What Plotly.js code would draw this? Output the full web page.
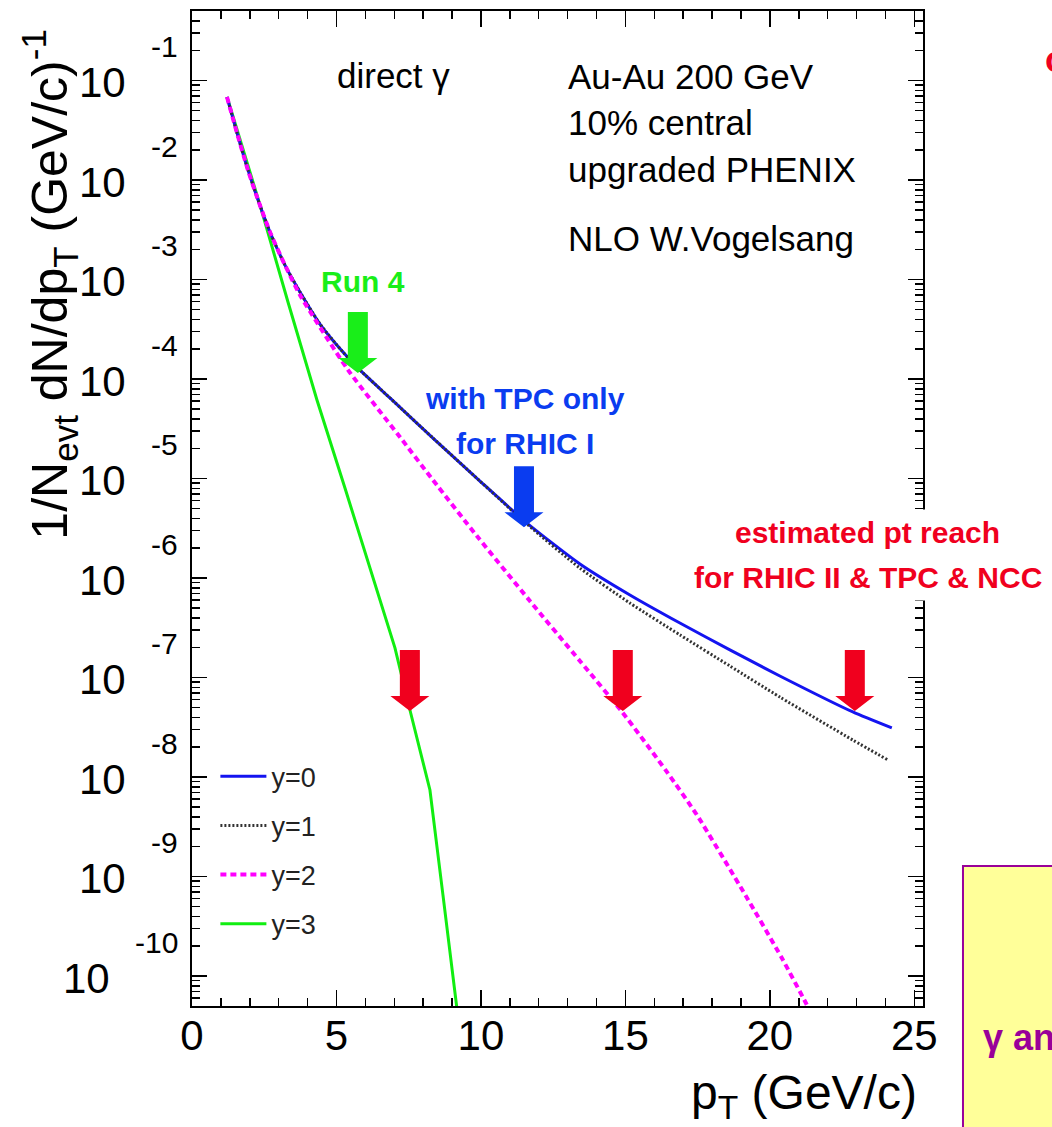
<!DOCTYPE html>
<html><head><meta charset="utf-8">
<script src="https://cdn.plot.ly/plotly-3.0.1.min.js"></script>
<style>html,body{margin:0;padding:0;background:#fff;}#chart{width:1052px;height:1127px;}</style>
</head><body><div id="chart"></div>
<script>
// ---- data ----
const pt_y0  = [1.211, 1.557, 1.938, 2.249, 2.699, 3.218, 3.737, 4.429, 5.225, 5.744, 6.851, 8.339, 9.965, 11.592, 13.426, 15.156, 16.886, 18.616, 20.346, 22.872, 24.221];
const val_y0 = [6.85e-2, 2.98e-2, 1.26e-2, 6.78e-3, 3.01e-3, 1.40e-3, 7.52e-4, 3.58e-4, 1.87e-4, 1.29e-4, 6.47e-5, 2.56e-5, 9.46e-6, 3.58e-6, 1.39e-6, 6.78e-7, 3.54e-7, 1.90e-7, 1.04e-7, 4.52e-8, 3.12e-8];

const pt_y1  = [1.211, 1.557, 1.938, 2.249, 2.699, 3.218, 3.737, 4.429, 5.225, 5.744, 6.851, 8.339, 9.965, 11.592, 13.426, 15.156, 16.886, 18.616, 20.346, 22.872, 24.083];
const val_y1 = [6.85e-2, 2.98e-2, 1.26e-2, 6.78e-3, 3.01e-3, 1.40e-3, 7.52e-4, 3.58e-4, 1.87e-4, 1.29e-4, 6.47e-5, 2.56e-5, 9.46e-6, 3.50e-6, 1.26e-6, 5.62e-7, 2.69e-7, 1.31e-7, 6.38e-8, 2.36e-8, 1.49e-8];

const pt_y2  = [1.211, 1.557, 1.938, 2.249, 2.699, 3.218, 3.737, 5.398, 7.197, 8.339, 9.862, 11.696, 13.426, 14.913, 16.436, 17.474, 19.170, 20.415, 21.246, 21.45];
const val_y2 = [6.85e-2, 2.98e-2, 1.26e-2, 6.78e-3, 3.01e-3, 1.40e-3, 7.02e-4, 1.24e-4, 2.62e-5, 9.68e-6, 2.65e-6, 5.89e-7, 1.47e-7, 4.42e-8, 1.13e-8, 4.17e-9, 6.40e-10, 1.52e-10, 5.37e-11, 4.07e-11];

const pt_y3  = [1.246, 2.353, 3.322, 4.325, 5.294, 6.159, 7.024, 7.543, 8.235, 8.685, 9.170, 9.239];
const val_y3 = [6.40e-2, 5.62e-3, 5.96e-4, 6.17e-5, 8.05e-6, 1.26e-6, 1.99e-7, 4.73e-8, 7.43e-9, 6.55e-10, 5.01e-11, 3.23e-11];

const seriesNames = ['y=0', 'y=1', 'y=2', 'y=3'];
const xTickVals = [0, 5, 10, 15, 20, 25];
const yTickExp = [-1, -2, -3, -4, -5, -6, -7, -8, -9, -10];

// annotation arrows: tip position (pT, value) and colour
const arrowPt  = [5.74, 11.49, 7.54, 14.91, 22.94];
const arrowVal = [1.15e-4, 3.24e-6, 4.62e-8, 4.62e-8, 4.62e-8];
const arrowCol = ['#19ee19', '#0a3cf0', '#f0001e', '#f0001e', '#f0001e'];

// ---- layout constants ----
const XR = [0, 25.3];
const YR = [-10.3, -0.3];
const yp = v => (Math.log10(v) - YR[0]) / (YR[1] - YR[0]);
const FONT = 'Liberation Sans, Arial, Helvetica, sans-serif';

const traces = [
  {x: pt_y3, y: val_y3, name: seriesNames[3], mode: 'lines', line: {color: '#11ee11', width: 3}, legendgroup: 'g3', legendrank: 4},
  {x: pt_y0, y: val_y0, name: seriesNames[0], mode: 'lines', line: {color: '#1414f0', width: 3, shape: 'spline', smoothing: 0.6}, legendgroup: 'g0', legendrank: 1},
  {x: pt_y1, y: val_y1, name: seriesNames[1], mode: 'lines', line: {color: '#333333', width: 3, dash: '2px,2px', shape: 'spline', smoothing: 0.6}, legendgroup: 'g1', legendrank: 2},
  {x: pt_y2, y: val_y2, name: seriesNames[2], mode: 'lines', line: {color: '#ff00ff', width: 4, dash: '6px,4px', shape: 'spline', smoothing: 0.6}, legendgroup: 'g2', legendrank: 3}
];

const minorVals = [];
for (let k = 1; k <= 11; k++) for (let m = 2; m <= 9; m++) minorVals.push(m * Math.pow(10, -k));

const annotations = [];
yTickExp.forEach(e => {
  const yy = yp(Math.pow(10, e));
  annotations.push({xref: 'paper', yref: 'paper', x: 0, y: yy, xanchor: 'right', yanchor: 'middle',
    xshift: e === -10 ? -80 : -64, yshift: -2, text: '10', showarrow: false, font: {size: 42, color: '#000', family: FONT}});
  annotations.push({xref: 'paper', yref: 'paper', x: 0, y: yy, xanchor: 'right', yanchor: 'middle',
    xshift: -12, yshift: 34, text: String(e), showarrow: false, font: {size: 30, color: '#000', family: FONT}});
});

function lbl(text, x, logv, opts) {
  return Object.assign({xref: 'x', yref: 'paper', x: x, y: (logv - YR[0]) / (YR[1] - YR[0]), text: text, showarrow: false,
    xanchor: 'left', yanchor: 'middle', font: {size: 35, color: '#000', family: FONT}}, opts || {});
}
annotations.push(lbl('direct γ', 4.95, -0.95));
annotations.push(lbl('Au-Au 200 GeV', 12.94, -0.96));
annotations.push(lbl('10% central', 12.94, -1.42));
annotations.push(lbl('upgraded PHENIX', 12.94, -1.89));
annotations.push(lbl('NLO W.Vogelsang', 12.94, -2.59));
annotations.push(lbl('<b>Run 4</b>', 5.92, -3.02, {xanchor: 'center', font: {size: 30, color: '#19ee19', family: FONT}}));
annotations.push(lbl('<b>with TPC only</b>', 11.52, -4.19, {xanchor: 'center', font: {size: 30, color: '#0a3cf0', family: FONT}}));
annotations.push(lbl('<b>for RHIC I</b>', 11.52, -4.65, {xanchor: 'center', font: {size: 30, color: '#0a3cf0', family: FONT}}));
annotations.push(lbl('<b>estimated pt reach</b>', 23.39, -5.54, {xanchor: 'center', bgcolor: '#ffffff', borderpad: 6, font: {size: 30, color: '#f0001e', family: FONT}}));
annotations.push(lbl('<b>for RHIC II &amp; TPC &amp; NCC</b>', 23.39, -5.99, {xanchor: 'center', bgcolor: '#ffffff', borderpad: 6, font: {size: 30, color: '#f0001e', family: FONT}}));

// axis titles
annotations.push({xref: 'paper', yref: 'paper', x: 0, y: 0.725, xshift: -142, xanchor: 'center', yanchor: 'middle', textangle: -90,
  text: '1/N<sub>evt</sub> dN/dp<sub>T</sub> (GeV/c)<sup>-1</sup>', showarrow: false, font: {size: 50, color: '#000', family: FONT}});
annotations.push({xref: 'paper', yref: 'paper', x: 0.9945, y: -0.09, xanchor: 'right', yanchor: 'middle',
  text: 'p<sub>T</sub> (GeV/c)', showarrow: false, font: {size: 48, color: '#000', family: FONT}});

// fragments of surrounding slide
annotations.push({xref: 'paper', yref: 'paper', x: 1.1645, y: 0.951, xanchor: 'left', yanchor: 'middle',
  text: '<b>o</b>', showarrow: false, font: {size: 36, color: '#f0001e', family: FONT}});
annotations.push({xref: 'paper', yref: 'paper', x: 1.08, y: -0.032, xanchor: 'left', yanchor: 'middle',
  text: '<b>γ and</b>', showarrow: false, font: {size: 36, color: '#990099', family: FONT}});

const shapes = [
  {type: 'rect', xref: 'paper', yref: 'paper', x0: 1.0547, x1: 1.3, y0: -0.3, y1: 0.1407,
   line: {color: '#990099', width: 2}, fillcolor: '#ffff99', layer: 'above'}
];
const arrowPath = 'M0,0 L-19.5,15 L-10,15 L-10,61 L10,61 L10,15 L19.5,15 Z';
arrowPt.forEach((p, i) => {
  shapes.push({type: 'path', xref: 'x', yref: 'paper', xsizemode: 'pixel', ysizemode: 'pixel',
    xanchor: p, yanchor: yp(arrowVal[i]), path: arrowPath, fillcolor: arrowCol[i], line: {width: 0}, layer: 'above'});
});

const layout = {
  width: 1052, height: 1127,
  margin: {l: 192, r: 129, t: 11, b: 121, pad: 0},
  paper_bgcolor: '#fff', plot_bgcolor: '#fff',
  font: {family: FONT, color: '#000'},
  showlegend: true,
  legend: {x: 0.032, y: 0.255, xanchor: 'left', yanchor: 'top', bgcolor: 'rgba(0,0,0,0)',
    font: {size: 27, color: '#222', family: FONT}, tracegroupgap: 11, itemwidth: 46, traceorder: 'grouped'},
  xaxis: {range: XR, tickvals: xTickVals, ticks: 'inside', ticklen: 16, tickwidth: 1.5, tickcolor: '#000',
    showline: true, linecolor: '#000', linewidth: 2, mirror: 'ticks', showgrid: false, zeroline: false,
    tickfont: {size: 42, color: '#000', family: FONT}, ticklabelstandoff: -8,
    minor: {dtick: 1, ticks: 'inside', ticklen: 8, tickwidth: 1.5, tickcolor: '#000', showgrid: false}},
  yaxis: {type: 'log', range: YR, tickvals: yTickExp.map(e => Math.pow(10, e)), showticklabels: false,
    ticks: 'inside', ticklen: 15, tickwidth: 1.5, tickcolor: '#000',
    showline: true, linecolor: '#000', linewidth: 2, mirror: 'ticks', showgrid: false, zeroline: false,
    minor: {tickvals: minorVals, ticks: 'inside', ticklen: 8, tickwidth: 1.5, tickcolor: '#000', showgrid: false}},
  annotations: annotations,
  shapes: shapes
};

Plotly.newPlot('chart', traces, layout, {displayModeBar: false, staticPlot: true});
</script></body></html>
